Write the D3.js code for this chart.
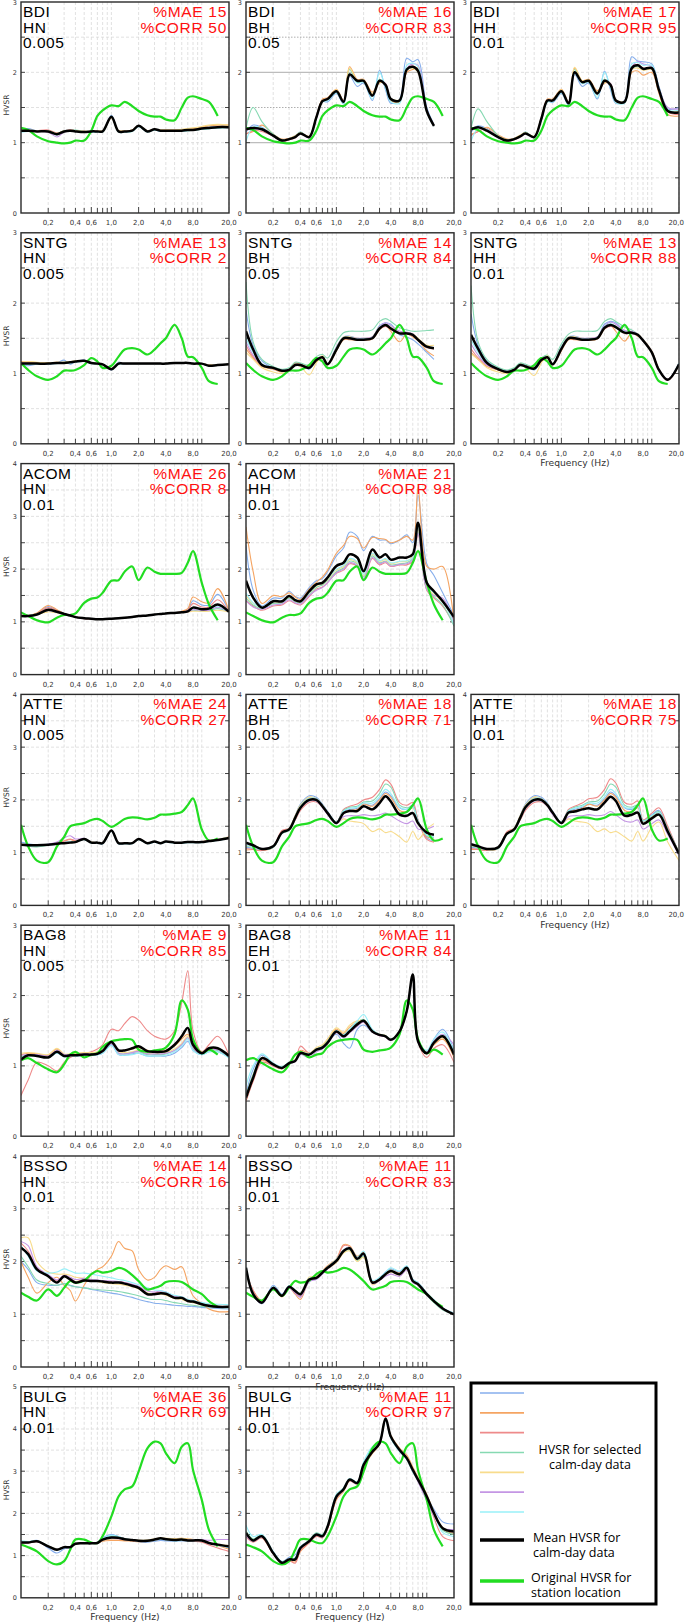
<!DOCTYPE html>
<html>
<head>
<meta charset="utf-8">
<script src="https://cdn.jsdelivr.net/npm/d3@7"></script>
<style>
  body { margin: 0; background: #fff; }
  svg { display: block; }
</style>
</head>
<body>
<svg id="chart" width="685" height="1624"></svg>
<script>
// frequency grid (Hz) shared by every curve
const FREQ = [0.1,0.12,0.15,0.2,0.25,0.3,0.35,0.4,0.5,0.6,0.7,0.8,1,1.2,1.4,1.7,2,2.5,3,3.5,4,5,6,7,8,10,12,15,20];

// original HVSR per station (green)
const GREEN_BDI  = [1.21,1.18,1.09,1.02,1.00,0.99,1.00,1.03,1.03,1.17,1.38,1.46,1.53,1.52,1.58,1.52,1.45,1.39,1.37,1.37,1.33,1.32,1.50,1.64,1.66,1.62,1.58,1.38,null];
const GREEN_SNTG = [1.15,1.05,0.96,0.91,0.96,1.04,1.04,1.05,1.12,1.22,1.17,1.08,1.11,1.24,1.34,1.36,1.34,1.27,1.34,1.43,1.50,1.69,1.50,1.24,1.23,1.08,0.89,0.85,null];
const GREEN_ACOM = [1.18,1.11,1.03,0.99,1.08,1.13,1.13,1.16,1.36,1.44,1.46,1.55,1.78,1.79,1.95,2.05,1.79,2.03,1.95,1.91,1.91,1.91,1.93,2.12,2.34,1.74,1.33,1.03,null];
const GREEN_ATTE = [1.53,1.12,0.85,0.82,1.12,1.30,1.50,1.53,1.56,1.62,1.64,1.60,1.49,1.56,1.64,1.67,1.66,1.63,1.66,1.72,1.72,1.74,1.77,1.90,2.03,1.44,1.23,1.27,null];
const GREEN_BAG8 = [1.08,1.11,1.04,0.95,0.91,1.02,1.16,1.20,1.12,1.16,1.18,1.27,1.35,1.37,1.38,1.37,1.23,1.20,1.22,1.23,1.26,1.45,1.93,1.80,1.38,1.18,1.23,1.16,null];
const GREEN_BSSO = [1.41,1.33,1.26,1.47,1.35,1.50,1.63,1.60,1.64,1.76,1.82,1.79,1.82,1.88,1.85,1.74,1.63,1.47,1.50,1.54,1.61,1.63,1.61,1.54,1.47,1.38,1.25,1.14,null];
const GREEN_BULG = [1.26,1.20,1.10,0.87,0.79,0.87,1.14,1.38,1.38,1.31,1.30,1.46,1.93,2.40,2.57,2.64,2.99,3.54,3.70,3.66,3.43,3.19,3.58,3.66,3.03,2.32,1.61,1.22,null];

// mean HVSR for calm-day data (black)
const MEAN_BDI_HN  = [1.17,1.17,1.16,1.16,1.12,1.16,1.17,1.16,1.15,1.16,1.16,1.16,1.37,1.16,1.16,1.17,1.24,1.16,1.19,1.17,1.17,1.17,1.17,1.18,1.18,1.20,1.21,1.22,1.22];
const MEAN_BDI_BH  = [1.19,1.21,1.19,1.10,1.03,1.05,1.08,1.13,1.08,1.36,1.59,1.62,1.73,1.58,1.97,1.88,1.88,1.67,1.88,1.82,1.62,1.60,2.04,2.08,2.02,1.45,1.24,null,null];
const MEAN_BDI_HH  = [1.19,1.22,1.17,1.08,1.03,1.05,1.09,1.13,1.08,1.34,1.60,1.60,1.73,1.56,2.00,1.86,1.88,1.70,1.88,1.82,1.60,1.58,2.06,2.10,2.05,2.06,1.75,1.45,1.43];
const MEAN_SNTG_HN = [1.14,1.14,1.14,1.14,1.15,1.15,1.16,1.17,1.18,1.15,1.14,1.13,1.06,1.14,1.14,1.14,1.14,1.14,1.14,1.14,1.14,1.15,1.15,1.15,1.14,1.14,1.11,1.12,1.13];
const MEAN_SNTG_BH = [1.60,1.34,1.12,1.08,1.04,1.05,1.12,1.12,1.08,1.19,1.23,1.13,1.34,1.50,1.50,1.48,1.48,1.50,1.64,1.69,1.64,1.57,1.57,1.55,1.48,1.38,1.36,null,null];
const MEAN_SNTG_HH = [1.55,1.35,1.15,1.06,1.02,1.05,1.12,1.10,1.07,1.19,1.23,1.13,1.35,1.50,1.50,1.48,1.48,1.50,1.65,1.69,1.66,1.58,1.58,1.55,1.47,1.30,1.05,0.91,1.13];
const MEAN_ACOM_HN = [1.11,1.11,1.14,1.23,1.19,1.15,1.12,1.09,1.07,1.06,1.05,1.05,1.06,1.07,1.08,1.09,1.11,1.12,1.14,1.15,1.16,1.17,1.18,1.20,1.27,1.24,1.25,1.33,1.19];
const MEAN_ACOM_HH = [1.78,1.46,1.27,1.39,1.39,1.49,1.41,1.39,1.58,1.71,1.74,1.84,2.06,2.12,2.28,2.22,1.96,2.37,2.22,2.28,2.18,2.22,2.22,2.28,2.88,1.74,1.58,1.39,1.09];
const MEAN_ATTE_HN = [1.15,1.14,1.14,1.15,1.17,1.18,1.19,1.20,1.26,1.19,1.19,1.18,1.42,1.18,1.18,1.18,1.26,1.18,1.21,1.18,1.21,1.19,1.19,1.20,1.20,1.20,1.22,1.24,1.28];
const MEAN_ATTE_BH = [1.19,1.14,1.07,1.12,1.38,1.44,1.66,1.85,2.00,2.00,1.88,1.75,1.56,1.75,1.79,1.79,1.88,1.82,1.94,2.07,1.97,1.72,1.70,1.75,1.56,1.38,1.34,null,null];
const MEAN_ATTE_HH = [1.16,1.12,1.07,1.10,1.36,1.44,1.66,1.86,2.00,2.00,1.90,1.76,1.56,1.76,1.78,1.82,1.84,1.82,1.95,2.06,1.98,1.70,1.72,1.76,1.55,1.65,1.72,1.40,0.98];
const MEAN_BAG8_HN = [1.09,1.15,1.14,1.12,1.20,1.14,1.15,1.15,1.16,1.16,1.17,1.21,1.34,1.22,1.22,1.25,1.28,1.21,1.20,1.20,1.21,1.30,1.42,1.54,1.30,1.18,1.25,1.25,1.14];
const MEAN_BAG8_EH = [0.55,0.83,1.11,1.02,0.97,1.04,1.07,1.18,1.16,1.23,1.26,1.33,1.49,1.42,1.49,1.59,1.64,1.49,1.44,1.42,1.37,1.49,1.78,2.30,1.35,1.18,1.33,1.42,1.16];
const MEAN_BSSO_HN = [2.26,2.14,1.85,1.72,1.60,1.72,1.66,1.60,1.64,1.63,1.63,1.62,1.60,1.60,1.58,1.54,1.50,1.38,1.38,1.40,1.39,1.31,1.31,1.25,1.24,1.19,1.16,1.14,1.14];
const MEAN_BSSO_HH = [1.88,1.38,1.22,1.50,1.35,1.52,1.44,1.38,1.66,1.69,1.79,1.88,2.01,2.20,2.25,2.05,2.15,1.60,1.66,1.76,1.82,1.76,1.88,1.63,1.57,1.38,1.25,1.11,1.00];
const MEAN_BULG_HN = [1.31,1.31,1.34,1.22,1.14,1.20,1.20,1.28,1.29,1.29,1.30,1.38,1.43,1.42,1.39,1.37,1.35,1.35,1.38,1.41,1.39,1.37,1.38,1.36,1.36,1.36,1.30,1.26,1.22];
const MEAN_BULG_HH = [1.54,1.36,1.46,1.06,0.83,0.91,0.91,1.18,1.34,1.50,1.46,1.69,2.40,2.57,2.80,2.72,3.15,3.46,3.66,4.25,3.82,3.50,3.31,3.03,2.80,2.40,2.01,1.65,1.57];

// selected calm-day HVSR curves (blue, orange, red, teal, yellow, purple, cyan)
const DAYS_BDI_HN = [
  [1.19,1.20,1.17,1.16,1.11,1.17,1.18,1.16,1.15,1.16,1.16,1.16,1.39,1.16,1.16,1.17,1.23,1.16,1.18,1.16,1.16,1.17,1.17,1.18,1.19,1.21,1.22,1.23,1.23],
  [1.18,1.17,1.17,1.17,1.13,1.17,1.18,1.17,1.16,1.16,1.16,1.16,1.35,1.17,1.17,1.18,1.24,1.17,1.19,1.18,1.18,1.18,1.18,1.19,1.20,1.22,1.24,1.25,1.25],
  [1.16,1.16,1.17,1.18,1.14,1.16,1.18,1.17,1.16,1.16,1.17,1.16,1.36,1.16,1.16,1.17,1.24,1.16,1.19,1.17,1.17,1.17,1.17,1.18,1.18,1.20,1.21,1.22,1.21],
  [1.17,1.16,1.16,1.17,1.13,1.17,1.17,1.18,1.16,1.15,1.16,1.15,1.36,1.15,1.16,1.16,1.23,1.16,1.18,1.17,1.17,1.16,1.17,1.17,1.18,1.19,1.20,1.21,1.22],
  [1.18,1.18,1.17,1.17,1.13,1.17,1.17,1.17,1.16,1.16,1.17,1.17,1.36,1.17,1.17,1.18,1.24,1.17,1.19,1.18,1.18,1.18,1.19,1.20,1.21,1.23,1.25,1.26,1.25],
  [1.17,1.17,1.16,1.15,1.08,1.15,1.17,1.16,1.15,1.16,1.16,1.16,1.37,1.16,1.16,1.17,1.24,1.16,1.19,1.17,1.17,1.17,1.17,1.18,1.18,1.20,1.21,1.22,1.22],
  [1.15,1.16,1.16,1.16,1.12,1.16,1.16,1.16,1.15,1.15,1.15,1.15,1.38,1.15,1.15,1.16,1.23,1.15,1.18,1.16,1.16,1.16,1.16,1.17,1.18,1.19,1.20,1.21,1.21]
];
const DAYS_BDI_BH = [
  [1.15,1.25,1.22,1.10,1.04,1.06,1.10,1.15,1.07,1.34,1.58,1.58,1.70,1.55,1.95,1.80,1.85,1.60,2.03,1.75,1.56,1.62,2.20,2.15,2.18,1.50,1.26,null,null],
  [1.13,1.16,1.25,1.12,1.05,1.06,1.09,1.14,1.09,1.36,1.62,1.64,1.76,1.60,2.08,1.90,1.90,1.72,1.85,1.84,1.60,1.58,2.00,2.04,2.06,1.45,1.25,null,null],
  [1.12,1.17,1.16,1.09,1.02,1.04,1.07,1.13,1.08,1.37,1.60,1.63,1.74,1.59,1.96,1.89,1.87,1.66,1.87,1.83,1.62,1.60,2.05,2.09,2.03,1.46,1.23,null,null],
  [1.20,1.50,1.30,1.12,1.04,1.05,1.09,1.15,1.08,1.35,1.58,1.61,1.72,1.57,2.04,1.86,1.87,1.66,1.90,1.81,1.61,1.59,2.03,2.07,2.01,1.44,1.24,null,null],
  [1.18,1.20,1.18,1.10,1.03,1.06,1.10,1.14,1.09,1.37,1.60,1.63,1.75,1.58,2.06,1.89,1.89,1.70,1.86,1.83,1.63,1.61,2.03,2.06,2.00,1.46,1.25,null,null],
  [1.18,1.19,1.18,1.09,1.02,1.05,1.08,1.13,1.07,1.35,1.59,1.62,1.73,1.58,1.97,1.88,1.88,1.66,1.88,1.84,1.62,1.60,2.05,2.12,2.10,1.46,1.24,null,null],
  [1.02,1.22,1.21,1.10,1.03,1.05,1.08,1.13,1.08,1.35,1.58,1.60,1.71,1.56,1.98,1.85,1.86,1.62,2.00,1.78,1.58,1.56,2.10,2.13,2.08,1.44,1.23,null,null]
];
const DAYS_BDI_HH = [
  [1.15,1.24,1.20,1.09,1.04,1.06,1.10,1.15,1.07,1.32,1.59,1.57,1.70,1.53,1.97,1.80,1.85,1.62,2.02,1.75,1.56,1.60,2.22,2.16,2.15,2.12,1.80,1.48,1.50],
  [1.12,1.16,1.22,1.11,1.05,1.06,1.10,1.14,1.09,1.35,1.62,1.62,1.76,1.58,2.06,1.88,1.90,1.74,1.85,1.84,1.58,1.57,2.00,2.02,1.96,2.00,1.70,1.40,1.38],
  [1.10,1.16,1.20,1.08,1.02,1.04,1.08,1.13,1.08,1.35,1.61,1.61,1.74,1.57,1.99,1.87,1.87,1.69,1.87,1.83,1.60,1.58,2.07,2.11,2.06,2.05,1.74,1.44,1.40],
  [1.20,1.48,1.30,1.10,1.04,1.05,1.09,1.15,1.08,1.33,1.58,1.59,1.72,1.55,2.04,1.85,1.87,1.68,1.90,1.81,1.60,1.57,2.05,2.08,2.04,2.05,1.76,1.46,1.44],
  [1.18,1.20,1.17,1.09,1.03,1.06,1.11,1.14,1.09,1.35,1.60,1.61,1.75,1.57,2.07,1.88,1.89,1.72,1.86,1.83,1.61,1.59,2.04,2.06,2.03,2.04,1.74,1.46,1.45],
  [1.18,1.20,1.17,1.07,1.02,1.05,1.09,1.13,1.07,1.33,1.59,1.60,1.73,1.56,1.99,1.86,1.88,1.69,1.88,1.84,1.60,1.58,2.07,2.15,2.12,2.08,1.78,1.50,1.48],
  [1.02,1.20,1.19,1.08,1.03,1.05,1.09,1.13,1.08,1.33,1.58,1.58,1.71,1.54,1.98,1.84,1.86,1.64,2.00,1.78,1.57,1.56,2.12,2.14,2.10,2.10,1.78,1.47,1.46]
];
const DAYS_SNTG_HN = [
  [1.12,1.11,1.13,1.13,1.15,1.19,1.13,1.17,1.19,1.15,1.14,1.13,1.05,1.16,1.13,1.14,1.14,1.14,1.14,1.14,1.14,1.15,1.15,1.15,1.14,1.14,1.11,1.12,1.13],
  [1.17,1.16,1.15,1.15,1.16,1.15,1.16,1.17,1.18,1.15,1.14,1.13,1.07,1.14,1.14,1.14,1.14,1.14,1.14,1.14,1.14,1.15,1.15,1.15,1.14,1.14,1.12,1.12,1.13],
  [1.16,1.15,1.15,1.14,1.15,1.15,1.16,1.17,1.18,1.15,1.14,1.13,1.06,1.14,1.14,1.14,1.14,1.14,1.14,1.14,1.14,1.15,1.15,1.15,1.14,1.14,1.11,1.12,1.13],
  [1.13,1.13,1.14,1.14,1.15,1.16,1.16,1.17,1.18,1.15,1.14,1.13,1.06,1.14,1.14,1.14,1.14,1.14,1.14,1.14,1.14,1.15,1.15,1.15,1.14,1.14,1.11,1.12,1.13],
  [1.16,1.17,1.16,1.15,1.16,1.16,1.17,1.18,1.18,1.15,1.14,1.13,1.07,1.14,1.14,1.14,1.14,1.14,1.14,1.14,1.14,1.15,1.15,1.15,1.14,1.14,1.12,1.12,1.13],
  [1.15,1.14,1.14,1.14,1.15,1.15,1.16,1.17,1.18,1.15,1.14,1.13,1.06,1.14,1.14,1.14,1.14,1.14,1.14,1.14,1.14,1.15,1.15,1.15,1.14,1.14,1.11,1.12,1.13],
  [1.13,1.13,1.13,1.14,1.14,1.15,1.15,1.16,1.17,1.14,1.14,1.13,1.06,1.13,1.14,1.14,1.14,1.14,1.14,1.14,1.14,1.15,1.15,1.15,1.14,1.14,1.11,1.12,1.13]
];
const DAYS_SNTG_BH = [
  [1.90,1.40,1.18,1.08,1.05,1.06,1.14,1.14,1.06,1.18,1.24,1.14,1.38,1.52,1.53,1.50,1.50,1.52,1.68,1.72,1.70,1.55,1.52,1.48,1.42,1.30,1.20,null,null],
  [1.35,1.22,1.10,1.06,1.02,1.06,1.15,1.13,1.10,1.17,1.22,1.12,1.32,1.48,1.48,1.47,1.47,1.49,1.62,1.68,1.60,1.45,1.56,1.52,1.47,1.32,1.25,null,null],
  [1.40,1.24,1.12,1.07,1.04,1.05,1.12,1.12,1.08,1.19,1.23,1.13,1.34,1.49,1.49,1.48,1.48,1.50,1.63,1.67,1.63,1.56,1.56,1.54,1.47,1.37,1.35,null,null],
  [2.30,1.45,1.20,1.10,1.06,1.08,1.16,1.15,1.12,1.24,1.27,1.22,1.45,1.58,1.60,1.60,1.60,1.62,1.74,1.78,1.74,1.65,1.62,1.60,1.60,1.61,1.62,null,null],
  [1.30,1.20,1.08,1.02,1.00,1.04,1.12,1.10,0.98,1.15,1.25,1.14,1.36,1.52,1.52,1.50,1.50,1.52,1.66,1.70,1.66,1.58,1.58,1.56,1.50,1.40,1.40,null,null],
  [1.45,1.26,1.12,1.07,1.04,1.05,1.12,1.12,1.08,1.19,1.23,1.13,1.34,1.50,1.51,1.50,1.50,1.52,1.66,1.72,1.68,1.60,1.59,1.56,1.48,1.38,1.36,null,null],
  [1.50,1.30,1.14,1.08,1.05,1.05,1.13,1.12,1.08,1.19,1.23,1.13,1.35,1.51,1.51,1.49,1.49,1.51,1.65,1.70,1.65,1.57,1.57,1.55,1.48,1.38,1.36,null,null]
];
const DAYS_SNTG_HH = [
  [1.85,1.40,1.18,1.07,1.03,1.06,1.14,1.12,1.05,1.18,1.24,1.14,1.38,1.52,1.53,1.50,1.50,1.52,1.70,1.74,1.72,1.60,1.57,1.54,1.46,1.30,1.06,0.92,1.14],
  [1.30,1.20,1.10,1.05,1.01,1.06,1.14,1.11,1.09,1.17,1.22,1.12,1.32,1.48,1.48,1.47,1.47,1.49,1.63,1.68,1.60,1.46,1.58,1.53,1.48,1.32,1.06,0.92,1.12],
  [1.35,1.22,1.12,1.05,1.02,1.05,1.12,1.10,1.07,1.19,1.23,1.13,1.34,1.49,1.49,1.48,1.48,1.50,1.64,1.67,1.65,1.57,1.57,1.54,1.46,1.29,1.04,0.90,1.12],
  [2.25,1.45,1.20,1.09,1.05,1.08,1.15,1.13,1.10,1.22,1.26,1.20,1.42,1.56,1.60,1.60,1.60,1.61,1.74,1.78,1.74,1.66,1.62,1.56,1.48,1.30,1.05,0.91,1.14],
  [1.28,1.20,1.08,1.02,1.00,1.04,1.12,1.08,0.97,1.15,1.25,1.14,1.36,1.52,1.52,1.50,1.50,1.52,1.66,1.70,1.67,1.59,1.59,1.56,1.48,1.31,1.06,0.92,1.13],
  [1.42,1.26,1.12,1.06,1.03,1.05,1.12,1.10,1.07,1.19,1.23,1.13,1.34,1.50,1.51,1.50,1.50,1.52,1.67,1.73,1.70,1.61,1.60,1.56,1.48,1.31,1.06,0.92,1.14],
  [1.48,1.30,1.14,1.07,1.03,1.05,1.13,1.10,1.07,1.19,1.23,1.13,1.35,1.51,1.51,1.49,1.49,1.51,1.66,1.71,1.67,1.59,1.58,1.55,1.47,1.30,1.05,0.91,1.15]
];
const DAYS_ACOM_HN = [
  [1.10,1.11,1.16,1.29,1.22,1.16,1.12,1.09,1.07,1.06,1.05,1.05,1.06,1.07,1.08,1.09,1.11,1.12,1.14,1.15,1.16,1.17,1.19,1.23,1.40,1.32,1.32,1.52,1.20],
  [1.12,1.12,1.17,1.31,1.23,1.16,1.12,1.09,1.07,1.06,1.05,1.05,1.06,1.07,1.08,1.09,1.11,1.12,1.14,1.15,1.16,1.17,1.20,1.25,1.47,1.38,1.36,1.63,1.21],
  [1.11,1.11,1.15,1.27,1.21,1.15,1.12,1.09,1.06,1.05,1.05,1.05,1.06,1.07,1.08,1.09,1.11,1.12,1.14,1.15,1.16,1.17,1.18,1.22,1.35,1.28,1.28,1.42,1.19],
  [1.12,1.12,1.14,1.20,1.18,1.15,1.12,1.09,1.07,1.06,1.05,1.05,1.06,1.07,1.08,1.09,1.11,1.12,1.14,1.15,1.16,1.17,1.18,1.19,1.22,1.20,1.21,1.25,1.19],
  [1.13,1.12,1.14,1.19,1.17,1.15,1.12,1.10,1.07,1.06,1.05,1.05,1.06,1.07,1.08,1.09,1.11,1.12,1.14,1.15,1.16,1.17,1.18,1.19,1.20,1.20,1.20,1.22,1.19],
  [1.11,1.11,1.14,1.21,1.18,1.15,1.12,1.09,1.07,1.06,1.05,1.05,1.06,1.07,1.08,1.09,1.11,1.12,1.14,1.15,1.16,1.17,1.18,1.19,1.23,1.22,1.22,1.28,1.19],
  [1.12,1.12,1.15,1.22,1.18,1.15,1.12,1.09,1.07,1.06,1.05,1.05,1.06,1.07,1.08,1.09,1.11,1.12,1.14,1.15,1.16,1.17,1.18,1.20,1.26,1.24,1.24,1.30,1.19]
];
const DAYS_ACOM_HH = [
  [2.45,1.60,1.30,1.45,1.45,1.58,1.48,1.45,1.65,1.78,1.82,1.95,2.25,2.40,2.70,2.62,2.35,2.62,2.55,2.55,2.48,2.55,2.65,2.50,3.40,2.10,1.88,1.55,1.12],
  [2.80,1.95,1.35,1.50,1.48,1.55,1.47,1.42,1.62,1.75,1.85,1.98,2.30,2.45,2.62,2.58,2.40,2.60,2.58,2.56,2.50,2.55,2.62,2.55,3.55,2.05,2.00,2.05,1.00],
  [1.40,1.30,1.22,1.30,1.32,1.40,1.35,1.32,1.48,1.62,1.66,1.75,1.92,1.98,2.10,2.05,1.80,2.20,2.08,2.12,2.05,2.08,2.08,2.15,2.65,1.60,1.45,1.30,0.95],
  [1.45,1.32,1.25,1.35,1.36,1.45,1.38,1.36,1.52,1.65,1.70,1.78,1.95,2.02,2.15,2.10,1.85,2.25,2.12,2.15,2.08,2.10,2.12,2.20,2.70,1.62,1.48,1.32,0.92],
  [1.50,1.35,1.28,1.38,1.38,1.47,1.40,1.38,1.55,1.68,1.72,1.80,1.98,2.05,2.18,2.12,1.88,2.28,2.15,2.18,2.10,2.14,2.15,2.25,2.75,1.66,1.52,1.38,1.00],
  [1.40,1.28,1.24,1.32,1.34,1.42,1.36,1.34,1.50,1.60,1.65,1.74,1.93,2.00,2.12,2.07,1.82,2.22,2.10,2.14,2.06,2.09,2.10,2.18,2.68,1.62,1.50,1.45,1.00],
  [1.55,1.36,1.28,1.40,1.40,1.48,1.42,1.40,1.56,1.70,1.73,1.82,2.00,2.07,2.20,2.14,1.90,2.30,2.16,2.20,2.12,2.15,2.16,2.22,2.80,1.70,1.55,1.40,0.95]
];
const DAYS_ATTE_HN = [
  [1.20,1.17,1.15,1.16,1.18,1.20,1.20,1.21,1.25,1.19,1.18,1.17,1.40,1.17,1.18,1.18,1.25,1.18,1.20,1.18,1.21,1.19,1.19,1.20,1.20,1.20,1.22,1.24,1.27],
  [1.16,1.14,1.13,1.15,1.18,1.22,1.25,1.22,1.26,1.19,1.19,1.18,1.41,1.18,1.18,1.18,1.26,1.18,1.21,1.18,1.21,1.19,1.19,1.20,1.20,1.21,1.23,1.25,1.30],
  [1.14,1.13,1.13,1.15,1.18,1.22,1.26,1.23,1.26,1.19,1.19,1.18,1.42,1.18,1.18,1.18,1.26,1.18,1.21,1.18,1.21,1.19,1.19,1.20,1.20,1.20,1.22,1.24,1.26],
  [1.15,1.12,1.11,1.14,1.17,1.19,1.20,1.21,1.25,1.19,1.19,1.18,1.41,1.18,1.18,1.18,1.25,1.18,1.21,1.18,1.21,1.19,1.19,1.20,1.20,1.20,1.22,1.25,1.29],
  [1.16,1.15,1.14,1.15,1.17,1.18,1.19,1.20,1.26,1.20,1.19,1.18,1.41,1.18,1.18,1.18,1.26,1.18,1.21,1.18,1.21,1.19,1.19,1.20,1.20,1.20,1.22,1.24,1.28],
  [1.15,1.14,1.14,1.16,1.20,1.28,1.32,1.26,1.27,1.19,1.19,1.18,1.42,1.18,1.18,1.18,1.26,1.18,1.21,1.18,1.21,1.19,1.19,1.20,1.20,1.20,1.22,1.24,1.28],
  [1.14,1.13,1.13,1.14,1.16,1.18,1.19,1.20,1.25,1.18,1.18,1.17,1.41,1.17,1.17,1.17,1.25,1.17,1.20,1.17,1.20,1.18,1.18,1.19,1.19,1.19,1.21,1.23,1.27]
];
const DAYS_ATTE_BH = [
  [1.10,1.08,1.05,1.10,1.38,1.46,1.70,1.92,2.08,2.05,1.92,1.78,1.58,1.78,1.82,1.84,1.92,1.90,2.02,2.15,2.08,1.85,1.82,1.90,1.62,1.28,1.22,null,null],
  [1.05,1.06,1.04,1.10,1.40,1.44,1.68,1.88,2.05,2.02,1.90,1.76,1.57,1.76,1.80,1.82,1.92,1.88,2.00,2.12,2.05,1.80,1.78,1.85,1.60,1.30,1.28,null,null],
  [1.08,1.06,1.04,1.12,1.42,1.46,1.62,1.80,1.95,1.96,1.86,1.74,1.58,1.82,1.88,1.92,2.00,2.05,2.20,2.38,2.30,1.95,1.90,1.95,1.62,1.25,1.20,null,null],
  [1.12,1.10,1.06,1.10,1.36,1.42,1.64,1.84,1.98,1.98,1.88,1.76,1.58,1.80,1.86,1.88,1.96,1.98,2.12,2.30,2.24,1.90,1.85,1.88,1.60,1.32,1.28,null,null],
  [1.14,1.10,1.06,1.10,1.38,1.46,1.70,1.90,2.05,2.02,1.90,1.76,1.56,1.64,1.60,1.58,1.55,1.40,1.45,1.38,1.40,1.30,1.20,1.40,1.25,1.45,1.55,null,null],
  [1.16,1.12,1.08,1.12,1.38,1.44,1.65,1.84,1.98,1.98,1.86,1.72,1.55,1.68,1.70,1.70,1.72,1.70,1.72,1.75,1.70,1.60,1.55,1.60,1.45,1.45,1.50,null,null],
  [1.15,1.10,1.06,1.10,1.37,1.44,1.67,1.88,2.03,2.02,1.90,1.77,1.58,1.79,1.84,1.86,1.94,1.94,2.06,2.20,2.12,1.86,1.82,1.86,1.60,1.33,1.30,null,null]
];
const DAYS_ATTE_HH = [
  [1.10,1.08,1.05,1.08,1.36,1.46,1.70,1.92,2.08,2.05,1.94,1.78,1.58,1.78,1.82,1.86,1.92,1.90,2.02,2.15,2.08,1.85,1.82,1.90,1.62,1.72,1.80,1.48,1.00],
  [1.06,1.06,1.04,1.08,1.38,1.44,1.68,1.88,2.05,2.02,1.92,1.76,1.57,1.76,1.80,1.84,1.92,1.88,2.00,2.12,2.05,1.80,1.78,1.85,1.60,1.68,1.76,1.45,1.00],
  [1.08,1.06,1.04,1.10,1.40,1.46,1.62,1.80,1.95,1.96,1.88,1.74,1.58,1.82,1.88,1.94,2.02,2.05,2.20,2.40,2.32,1.95,1.92,1.98,1.62,1.75,1.85,1.50,0.98],
  [1.12,1.10,1.06,1.08,1.34,1.42,1.64,1.84,1.98,1.98,1.90,1.76,1.58,1.80,1.86,1.90,1.96,1.98,2.12,2.30,2.24,1.90,1.86,1.90,1.60,1.70,1.78,1.45,1.00],
  [1.14,1.10,1.06,1.08,1.36,1.46,1.70,1.90,2.05,2.02,1.92,1.76,1.56,1.64,1.60,1.58,1.55,1.40,1.45,1.38,1.40,1.30,1.22,1.40,1.22,1.48,1.58,1.20,0.85],
  [1.16,1.12,1.08,1.10,1.36,1.44,1.65,1.84,1.98,1.98,1.88,1.72,1.55,1.68,1.70,1.70,1.72,1.70,1.72,1.78,1.72,1.60,1.58,1.62,1.45,1.55,1.62,1.35,0.95],
  [1.15,1.10,1.06,1.08,1.35,1.44,1.67,1.88,2.03,2.02,1.92,1.77,1.58,1.79,1.84,1.88,1.94,1.94,2.06,2.20,2.12,1.86,1.84,1.88,1.60,1.70,1.76,1.42,0.98]
];
const DAYS_BAG8_HN = [
  [1.12,1.16,1.15,1.13,1.19,1.13,1.14,1.14,1.15,1.15,1.16,1.18,1.30,1.16,1.15,1.17,1.18,1.14,1.14,1.14,1.14,1.18,1.26,1.35,1.22,1.16,1.20,1.20,1.12],
  [1.16,1.18,1.17,1.15,1.24,1.16,1.16,1.17,1.18,1.18,1.19,1.22,1.33,1.22,1.22,1.24,1.26,1.22,1.21,1.21,1.22,1.28,1.38,1.45,1.28,1.20,1.24,1.25,1.15],
  [0.58,0.80,1.05,1.00,0.93,1.05,1.12,1.15,1.18,1.20,1.24,1.30,1.52,1.50,1.60,1.70,1.65,1.50,1.42,1.39,1.38,1.50,1.90,2.35,1.50,1.20,1.30,1.42,1.15],
  [1.13,1.15,1.15,1.13,1.20,1.15,1.15,1.15,1.16,1.16,1.17,1.20,1.32,1.18,1.17,1.19,1.20,1.16,1.16,1.16,1.17,1.22,1.30,1.40,1.24,1.17,1.22,1.22,1.12],
  [1.18,1.19,1.18,1.16,1.25,1.17,1.17,1.18,1.19,1.19,1.20,1.22,1.33,1.20,1.19,1.20,1.22,1.18,1.18,1.18,1.19,1.24,1.32,1.42,1.26,1.19,1.23,1.24,1.14],
  [1.15,1.16,1.16,1.14,1.22,1.16,1.16,1.16,1.17,1.17,1.18,1.20,1.31,1.18,1.17,1.19,1.21,1.17,1.17,1.17,1.18,1.22,1.30,1.40,1.25,1.18,1.22,1.23,1.13],
  [1.11,1.14,1.14,1.12,1.18,1.13,1.14,1.14,1.15,1.15,1.16,1.18,1.29,1.16,1.15,1.16,1.18,1.14,1.14,1.14,1.15,1.20,1.28,1.38,1.22,1.16,1.20,1.20,1.11]
];
const DAYS_BAG8_EH = [
  [0.60,0.95,1.15,1.02,0.98,1.05,1.08,1.20,1.18,1.22,1.25,1.33,1.45,1.32,1.25,1.52,1.58,1.48,1.44,1.42,1.38,1.50,1.76,2.25,1.34,1.20,1.38,1.52,1.22],
  [0.50,0.80,1.08,1.00,0.96,1.04,1.08,1.22,1.18,1.24,1.28,1.38,1.52,1.46,1.55,1.62,1.62,1.50,1.45,1.43,1.38,1.50,1.76,2.28,1.36,1.17,1.30,1.38,1.12],
  [0.50,0.78,1.05,1.00,0.96,1.04,1.07,1.28,1.18,1.23,1.26,1.32,1.48,1.42,1.48,1.58,1.62,1.48,1.43,1.41,1.36,1.48,1.77,2.28,1.34,1.12,1.25,1.30,1.05],
  [0.58,0.88,1.12,1.02,0.98,1.04,1.08,1.18,1.16,1.24,1.28,1.36,1.50,1.44,1.52,1.62,1.66,1.50,1.44,1.42,1.37,1.50,1.78,2.30,1.35,1.18,1.32,1.44,1.18],
  [0.56,0.85,1.12,1.03,0.98,1.05,1.09,1.20,1.18,1.26,1.30,1.38,1.54,1.48,1.58,1.64,1.64,1.50,1.45,1.43,1.38,1.50,1.78,2.30,1.36,1.19,1.33,1.40,1.15],
  [0.55,0.84,1.10,1.01,0.97,1.03,1.06,1.16,1.12,1.20,1.24,1.32,1.47,1.40,1.47,1.56,1.62,1.48,1.43,1.41,1.36,1.48,1.77,2.28,1.35,1.20,1.36,1.45,1.30],
  [0.72,1.00,1.17,1.04,0.99,1.05,1.08,1.19,1.17,1.24,1.27,1.34,1.50,1.44,1.52,1.64,1.73,1.52,1.45,1.43,1.38,1.50,1.78,2.28,1.36,1.22,1.38,1.48,1.20]
];
const DAYS_BSSO_HN = [
  [2.00,1.85,1.60,1.55,1.55,1.58,1.55,1.52,1.50,1.47,1.45,1.43,1.40,1.38,1.35,1.32,1.28,1.24,1.21,1.20,1.19,1.17,1.16,1.15,1.15,1.13,1.12,1.11,1.10],
  [2.00,1.70,1.40,1.60,1.70,1.55,1.45,1.25,1.55,1.75,1.85,1.90,2.10,2.38,2.25,2.20,1.85,1.65,1.70,1.85,1.92,1.85,1.90,1.60,1.35,1.20,1.10,1.05,1.05],
  [2.35,2.20,1.88,1.74,1.64,1.74,1.68,1.62,1.66,1.64,1.64,1.63,1.62,1.62,1.60,1.56,1.52,1.40,1.40,1.42,1.40,1.32,1.32,1.26,1.24,1.18,1.16,1.14,1.13],
  [2.10,1.90,1.65,1.58,1.55,1.58,1.54,1.52,1.50,1.48,1.47,1.46,1.45,1.43,1.41,1.38,1.35,1.30,1.28,1.28,1.26,1.22,1.20,1.18,1.17,1.15,1.14,1.13,1.12],
  [2.45,2.45,2.00,1.80,1.76,1.76,1.74,1.70,1.68,1.64,1.62,1.60,1.58,1.57,1.55,1.52,1.48,1.40,1.38,1.38,1.36,1.30,1.28,1.24,1.22,1.18,1.16,1.14,1.14],
  [2.38,2.30,1.90,1.75,1.65,1.74,1.70,1.66,1.68,1.66,1.65,1.64,1.63,1.62,1.60,1.57,1.53,1.44,1.42,1.44,1.42,1.34,1.33,1.27,1.25,1.20,1.17,1.15,1.14],
  [2.30,2.10,1.82,1.78,1.80,1.86,1.82,1.78,1.78,1.76,1.74,1.72,1.69,1.66,1.64,1.60,1.56,1.50,1.46,1.45,1.42,1.36,1.33,1.28,1.26,1.22,1.20,1.19,1.18]
];
const DAYS_BSSO_HH = [
  [1.85,1.40,1.20,1.55,1.38,1.54,1.40,1.34,1.62,1.68,1.80,1.90,2.02,2.18,2.25,2.08,2.12,1.62,1.68,1.80,1.86,1.80,1.90,1.66,1.60,1.40,1.27,1.12,1.02],
  [1.80,1.45,1.26,1.48,1.33,1.50,1.38,1.28,1.64,1.70,1.82,1.92,2.05,2.32,2.30,2.10,2.18,1.62,1.66,1.78,1.84,1.78,1.86,1.62,1.56,1.36,1.24,1.10,1.00],
  [1.82,1.45,1.24,1.50,1.35,1.52,1.42,1.34,1.65,1.70,1.80,1.90,2.03,2.30,2.28,2.08,2.16,1.60,1.66,1.76,1.82,1.76,1.88,1.63,1.57,1.38,1.25,1.11,1.00],
  [1.86,1.40,1.22,1.48,1.34,1.50,1.44,1.40,1.68,1.72,1.82,1.88,2.00,2.18,2.22,2.02,2.10,1.58,1.65,1.76,1.84,1.76,1.86,1.62,1.56,1.36,1.22,1.08,1.00],
  [1.84,1.38,1.22,1.50,1.35,1.52,1.46,1.40,1.70,1.72,1.80,1.86,1.98,2.16,2.20,2.00,2.08,1.56,1.64,1.74,1.80,1.74,1.86,1.62,1.56,1.37,1.24,1.10,1.01],
  [1.88,1.38,1.20,1.48,1.34,1.50,1.40,1.32,1.62,1.66,1.76,1.86,2.00,2.22,2.26,2.06,2.14,1.58,1.64,1.72,1.76,1.72,1.84,1.60,1.55,1.36,1.24,1.10,1.00],
  [1.90,1.40,1.20,1.52,1.36,1.54,1.46,1.40,1.68,1.70,1.80,1.90,2.04,2.22,2.27,2.08,2.20,1.64,1.70,1.80,1.88,1.82,1.92,1.66,1.60,1.40,1.27,1.12,1.02]
];
const DAYS_BULG_HN = [
  [1.30,1.32,1.36,1.18,1.06,1.16,1.20,1.28,1.29,1.29,1.31,1.42,1.50,1.45,1.40,1.36,1.33,1.32,1.34,1.36,1.35,1.34,1.35,1.34,1.35,1.35,1.30,1.25,1.18],
  [1.32,1.30,1.33,1.22,1.15,1.20,1.21,1.28,1.29,1.29,1.29,1.34,1.36,1.36,1.35,1.34,1.33,1.34,1.37,1.40,1.40,1.40,1.41,1.40,1.38,1.37,1.30,1.24,1.15],
  [1.30,1.31,1.34,1.23,1.16,1.20,1.21,1.28,1.29,1.29,1.30,1.36,1.40,1.40,1.38,1.36,1.34,1.34,1.36,1.39,1.38,1.36,1.36,1.35,1.34,1.32,1.25,1.18,1.10],
  [1.34,1.33,1.34,1.23,1.16,1.20,1.21,1.28,1.30,1.30,1.31,1.40,1.46,1.44,1.40,1.37,1.35,1.35,1.38,1.41,1.39,1.37,1.38,1.36,1.36,1.36,1.30,1.26,1.22],
  [1.33,1.32,1.34,1.22,1.15,1.21,1.21,1.28,1.30,1.30,1.30,1.36,1.40,1.40,1.38,1.37,1.36,1.37,1.40,1.42,1.41,1.40,1.41,1.39,1.38,1.37,1.31,1.27,1.24],
  [1.31,1.31,1.33,1.22,1.15,1.20,1.20,1.28,1.29,1.29,1.30,1.37,1.41,1.40,1.38,1.36,1.35,1.35,1.37,1.40,1.39,1.37,1.38,1.37,1.37,1.38,1.36,1.38,1.38],
  [1.35,1.33,1.35,1.23,1.13,1.19,1.21,1.28,1.30,1.30,1.31,1.40,1.48,1.45,1.40,1.37,1.34,1.34,1.36,1.39,1.37,1.35,1.36,1.35,1.35,1.35,1.29,1.24,1.20]
];
const DAYS_BULG_HH = [
  [1.50,1.34,1.44,1.08,0.86,0.96,1.02,1.22,1.36,1.50,1.46,1.70,2.42,2.60,2.82,2.74,3.20,3.55,3.70,4.20,3.80,3.48,3.30,3.00,2.80,2.40,2.10,1.80,1.75],
  [1.50,1.36,1.42,1.04,0.82,0.88,0.85,1.10,1.30,1.46,1.44,1.64,2.32,2.52,2.76,2.70,3.10,3.42,3.64,4.25,3.85,3.55,3.38,3.10,2.85,2.45,2.02,1.62,1.52],
  [1.45,1.32,1.42,1.05,0.84,0.88,0.82,1.12,1.30,1.46,1.42,1.64,2.35,2.54,2.78,2.70,3.12,3.44,3.64,4.22,3.80,3.48,3.28,3.00,2.76,2.35,1.90,1.45,1.35],
  [1.58,1.40,1.48,1.08,0.86,0.92,0.94,1.20,1.36,1.54,1.50,1.72,2.44,2.60,2.82,2.74,3.18,3.50,3.66,4.22,3.80,3.48,3.28,3.00,2.78,2.38,2.00,1.60,1.50],
  [1.52,1.36,1.45,1.06,0.84,0.92,0.92,1.18,1.34,1.50,1.46,1.68,2.38,2.55,2.78,2.70,3.12,3.44,3.64,4.22,3.84,3.52,3.34,3.06,2.82,2.42,2.04,1.66,1.58],
  [1.48,1.34,1.44,1.06,0.84,0.90,0.90,1.16,1.32,1.48,1.44,1.66,2.38,2.55,2.78,2.70,3.14,3.46,3.66,4.24,3.82,3.50,3.30,3.02,2.75,2.30,1.95,1.65,1.62],
  [1.72,1.45,1.50,1.10,0.86,0.92,0.95,1.20,1.36,1.52,1.48,1.70,2.45,2.60,2.82,2.74,3.22,3.58,3.68,4.20,3.78,3.46,3.28,2.98,2.78,2.38,2.00,1.55,1.45]
];

// panel annotations
const STATION   = ["BDI","BDI","BDI","SNTG","SNTG","SNTG","ACOM","ACOM","ATTE","ATTE","ATTE","BAG8","BAG8","BSSO","BSSO","BULG","BULG"];
const COMPONENT = ["HN","BH","HH","HN","BH","HH","HN","HH","HN","BH","HH","HN","EH","HN","HH","HN","HH"];
const THRESHOLD = ["0.005","0.05","0.01","0.005","0.05","0.01","0.01","0.01","0.005","0.05","0.01","0.005","0.01","0.01","0.01","0.01","0.01"];
const MAE       = [15,16,17,13,14,13,26,21,24,18,18,9,11,14,11,36,11];
const CORR      = [50,83,95,2,84,88,8,98,27,71,75,85,84,16,83,69,97];
const ROW_YMAX  = [3,3,4,4,3,4,5];
const X_TICKS   = [0.2,0.4,0.6,1,2,4,8,20];
const X_GRID    = [0.2,0.3,0.4,0.5,0.6,0.7,0.8,0.9,1,2,3,4,5,6,7,8,9,10,20];
const DAY_COLORS = ["#86aeec","#f5a462","#ee8a8a","#86d9b2","#f8dc8c","#c496e4","#98f0f8"];
const LEGEND_DAYS = ["HVSR for selected","calm-day data"];
const LEGEND_MEAN = ["Mean HVSR for","calm-day data"];
const LEGEND_ORIG = ["Original HVSR for","station location"];

const GREEN = "#22dd22";

const panels = [
  {row:0,col:0,mean:MEAN_BDI_HN, days:DAYS_BDI_HN, orig:GREEN_BDI},
  {row:0,col:1,mean:MEAN_BDI_BH, days:DAYS_BDI_BH, orig:GREEN_BDI, strongGrid:true},
  {row:0,col:2,mean:MEAN_BDI_HH, days:DAYS_BDI_HH, orig:GREEN_BDI},
  {row:1,col:0,mean:MEAN_SNTG_HN,days:DAYS_SNTG_HN,orig:GREEN_SNTG},
  {row:1,col:1,mean:MEAN_SNTG_BH,days:DAYS_SNTG_BH,orig:GREEN_SNTG},
  {row:1,col:2,mean:MEAN_SNTG_HH,days:DAYS_SNTG_HH,orig:GREEN_SNTG,xTitle:true},
  {row:2,col:0,mean:MEAN_ACOM_HN,days:DAYS_ACOM_HN,orig:GREEN_ACOM},
  {row:2,col:1,mean:MEAN_ACOM_HH,days:DAYS_ACOM_HH,orig:GREEN_ACOM},
  {row:3,col:0,mean:MEAN_ATTE_HN,days:DAYS_ATTE_HN,orig:GREEN_ATTE},
  {row:3,col:1,mean:MEAN_ATTE_BH,days:DAYS_ATTE_BH,orig:GREEN_ATTE},
  {row:3,col:2,mean:MEAN_ATTE_HH,days:DAYS_ATTE_HH,orig:GREEN_ATTE,xTitle:true},
  {row:4,col:0,mean:MEAN_BAG8_HN,days:DAYS_BAG8_HN,orig:GREEN_BAG8},
  {row:4,col:1,mean:MEAN_BAG8_EH,days:DAYS_BAG8_EH,orig:GREEN_BAG8},
  {row:5,col:0,mean:MEAN_BSSO_HN,days:DAYS_BSSO_HN,orig:GREEN_BSSO},
  {row:5,col:1,mean:MEAN_BSSO_HH,days:DAYS_BSSO_HH,orig:GREEN_BSSO,xTitle:true},
  {row:6,col:0,mean:MEAN_BULG_HN,days:DAYS_BULG_HN,orig:GREEN_BULG,xTitle:true},
  {row:6,col:1,mean:MEAN_BULG_HH,days:DAYS_BULG_HH,orig:GREEN_BULG,xTitle:true}
];

const W = 685;
const colX = [21, 246, 471];
const pw = 208, ph = 211;
const rowTop = r => 2 + 230.8 * r;

const svg = d3.select("#chart");
const fmt = d3.format(".1f");

panels.forEach((p, k) => {
  const ymax = ROW_YMAX[p.row];
  const top = rowTop(p.row), left = colX[p.col];
  const g = svg.append("g").attr("transform", `translate(${left},${top})`);

  const x = d3.scaleLog().domain([0.1, 20]).range([0, pw]);
  const y = d3.scaleLinear().domain([0, ymax]).range([ph, 0]);

  g.append("clipPath").attr("id", "clip" + k)
    .append("rect").attr("width", pw).attr("height", ph);

  // grid
  g.selectAll(".vg").data(X_GRID).enter().append("line")
    .attr("x1", d => x(d)).attr("x2", d => x(d))
    .attr("y1", 0).attr("y2", ph)
    .attr("stroke", "#d9d9d9").attr("stroke-dasharray", "3,2").attr("stroke-width", 0.8);

  const yGrid = d3.range(0.5, ymax, 0.5);
  g.selectAll(".hg").data(yGrid).enter().append("line")
    .attr("x1", 0).attr("x2", pw)
    .attr("y1", d => y(d)).attr("y2", d => y(d))
    .attr("stroke", d => p.strongGrid ? (d % 1 === 0 ? "#bdbdbd" : "#9a9a9a") : "#d9d9d9")
    .attr("stroke-width", d => p.strongGrid && d % 1 === 0 ? 1.4 : 0.8)
    .attr("stroke-dasharray", d => p.strongGrid ? (d % 1 === 0 ? null : "1.5,1.5") : "3,2");

  // ticks inside the frame
  g.selectAll(".xt").data(X_GRID.filter(d => d < 20)).enter().append("line")
    .attr("x1", d => x(d)).attr("x2", d => x(d))
    .attr("y1", ph).attr("y2", d => ph - ([0.6, 1, 2].includes(d) ? 6 : 5))
    .attr("stroke", "#333").attr("stroke-width", 0.9);
  g.selectAll(".ytl").data(yGrid).enter().append("line")
    .attr("x1", 0).attr("x2", 4)
    .attr("y1", d => y(d)).attr("y2", d => y(d))
    .attr("stroke", "#333").attr("stroke-width", 0.9);
  g.selectAll(".ytr").data(yGrid).enter().append("line")
    .attr("x1", pw - 4).attr("x2", pw)
    .attr("y1", d => y(d)).attr("y2", d => y(d))
    .attr("stroke", "#333").attr("stroke-width", 0.9);

  // curves
  const line = d3.line()
    .defined(v => v != null)
    .x((v, i) => x(FREQ[i]))
    .y(v => y(v))
    .curve(d3.curveCatmullRom.alpha(0.5));

  const plot = g.append("g").attr("clip-path", `url(#clip${k})`);
  p.days.forEach((arr, j) => {
    plot.append("path").attr("d", line(arr))
      .attr("fill", "none").attr("stroke", DAY_COLORS[j]).attr("stroke-width", 1.1);
  });
  plot.append("path").attr("d", line(p.orig))
    .attr("fill", "none").attr("stroke", GREEN).attr("stroke-width", 2.2);
  plot.append("path").attr("d", line(p.mean))
    .attr("fill", "none").attr("stroke", "#000").attr("stroke-width", 2.5);

  // frame
  g.append("rect").attr("width", pw).attr("height", ph)
    .attr("fill", "none").attr("stroke", "#2a2a2a").attr("stroke-width", 1.4);

  // axis labels
  g.selectAll(".yl").data(d3.range(0, ymax + 1)).enter().append("text")
    .attr("x", -4).attr("y", d => y(d) + 2.5)
    .attr("text-anchor", "end")
    .attr("font-family", "DejaVu Sans, sans-serif").attr("font-size", 6.5).attr("fill", "#333")
    .text(d => d);
  g.selectAll(".xl").data(X_TICKS).enter().append("text")
    .attr("x", d => (left + x(d) + 9 > W) ? W - 1 - left : x(d))
    .attr("y", ph + 12)
    .attr("text-anchor", d => (left + x(d) + 9 > W) ? "end" : "middle")
    .attr("font-family", "DejaVu Sans, sans-serif").attr("font-size", 7).attr("fill", "#333")
    .text(d => fmt(d).replace(".", ","));

  if (p.col === 0) {
    g.append("text")
      .attr("transform", `translate(-12,${103}) rotate(-90)`)
      .attr("text-anchor", "middle")
      .attr("font-family", "DejaVu Sans, sans-serif").attr("font-size", 7.5).attr("fill", "#333")
      .text("HVSR");
  }
  if (p.xTitle) {
    g.append("text")
      .attr("x", pw / 2).attr("y", ph + 22.5)
      .attr("text-anchor", "middle")
      .attr("font-family", "DejaVu Sans, sans-serif").attr("font-size", 9.2).attr("fill", "#333")
      .text("Frequency (Hz)");
  }

  // panel annotations (compact-metric font so the stacked lines stay apart)
  g.selectAll(".info").data([STATION[k], COMPONENT[k], THRESHOLD[k]]).enter().append("text")
    .attr("x", 2).attr("y", (d, i) => 15 + 15.5 * i)
    .attr("font-family", "Liberation Sans, Arial, sans-serif").attr("font-size", 15.5)
    .attr("letter-spacing", 0.5).attr("fill", "#000")
    .text(d => d);
  g.selectAll(".score").data(["%MAE " + MAE[k], "%CORR " + CORR[k]]).enter().append("text")
    .attr("x", pw - 2).attr("y", (d, i) => 15 + 15.5 * i)
    .attr("text-anchor", "end")
    .attr("font-family", "Liberation Sans, Arial, sans-serif").attr("font-size", 15.5)
    .attr("letter-spacing", 0.7).attr("fill", "#ff1010")
    .text(d => d);
});

// legend
const lg = svg.append("g");
lg.append("rect").attr("x", 471).attr("y", 1383).attr("width", 185).attr("height", 221)
  .attr("fill", "#fff").attr("stroke", "#000").attr("stroke-width", 3);
const legY = d3.scaleLinear().domain([0, 6]).range([1393, 1512]);
DAY_COLORS.forEach((c, j) => {
  lg.append("line").attr("x1", 480).attr("x2", 524)
    .attr("y1", legY(j)).attr("y2", legY(j))
    .attr("stroke", c).attr("stroke-width", 1.6);
});
lg.append("line").attr("x1", 480).attr("x2", 524).attr("y1", 1540).attr("y2", 1540)
  .attr("stroke", "#000").attr("stroke-width", 3.5);
lg.append("line").attr("x1", 480).attr("x2", 524).attr("y1", 1581).attr("y2", 1581)
  .attr("stroke", GREEN).attr("stroke-width", 3.5);

const legendBlock = (lines, x, y0, anchor) => {
  const t = lg.append("text")
    .attr("text-anchor", anchor)
    .attr("font-family", "Open Sans, sans-serif").attr("font-size", 12.5).attr("fill", "#000");
  t.selectAll("tspan").data(lines).enter().append("tspan")
    .attr("x", x).attr("y", (d, i) => y0 + 15 * i)
    .text(d => d);
};
legendBlock(LEGEND_DAYS, 590, 1454, "middle");
legendBlock(LEGEND_MEAN, 533, 1542, "start");
legendBlock(LEGEND_ORIG, 531, 1582, "start");
</script>
</body>
</html>
